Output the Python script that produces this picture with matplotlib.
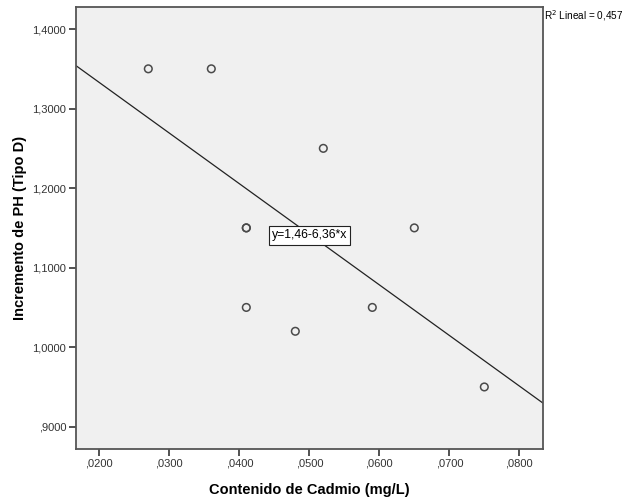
import numpy as np
import matplotlib
matplotlib.use("Agg")
import matplotlib.pyplot as plt

# Cadmium content (mg/L) vs pH increment (Type D)
cadmio = [0.027, 0.036, 0.041, 0.041, 0.052, 0.065, 0.041, 0.048, 0.059, 0.075]
ph_inc = [1.35, 1.35, 1.15, 1.15, 1.25, 1.15, 1.05, 1.02, 1.05, 0.95]
intercept, slope = 1.46, -6.36
r2 = 0.457

xticks = [0.02, 0.03, 0.04, 0.05, 0.06, 0.07, 0.08]
yticks = [0.9, 1.0, 1.1, 1.2, 1.3, 1.4]


def fmt(v, pos=None):
    s = f"{v:.4f}".replace(".", ",")
    return s[1:] if s.startswith("0") else s


plt.rcParams['font.family'] = ['Liberation Sans', 'DejaVu Sans']

fig = plt.figure(figsize=(6.27, 4.98), dpi=100)
ax = fig.add_axes([0.1212, 0.0984, 0.7448, 0.8875])
ax.set_facecolor('#f0f0f0')

ax.scatter(cadmio, ph_inc, s=30, facecolors='none', edgecolors='#4a4a4a',
           linewidths=1.1, zorder=3)

xlim = (0.01667, 0.08338)
ylim = (0.872, 1.4277)
xs = np.array(xlim)
ax.plot(xs, intercept + slope * xs, color='#222222', lw=0.9, zorder=2)

xm = 0.05
ax.text(xm, intercept + slope * xm - 0.0015, "y=1,46-6,36*x", fontsize=8.8,
        ha='center', va='center', zorder=4,
        bbox=dict(boxstyle='square,pad=0.25', fc='white', ec='#222222', lw=0.8))

ax.set_xlim(xlim)
ax.set_ylim(ylim)
ax.set_xticks(xticks)
ax.set_yticks(yticks)
ax.xaxis.set_major_formatter(plt.FuncFormatter(fmt))
ax.yaxis.set_major_formatter(plt.FuncFormatter(fmt))
ax.tick_params(direction='out', length=5, width=1.2, color='#333333',
               labelsize=8, labelcolor='#333333', pad=2)

for sp in ax.spines.values():
    sp.set_color('#555555')
    sp.set_linewidth(1.3)

ax.set_xlabel("Contenido de Cadmio (mg/L)", fontsize=10.5, fontweight='bold',
              labelpad=10)
ax.set_ylabel("Incremento de PH (Tipo D)", fontsize=10.5, fontweight='bold',
              labelpad=4)

fig.text(0.868, 0.968, "R$^2$ Lineal = " + f"{r2:.3f}".replace(".", ","),
         fontsize=7.2, ha='left', va='center')

fig.savefig("out.png", dpi=100)
